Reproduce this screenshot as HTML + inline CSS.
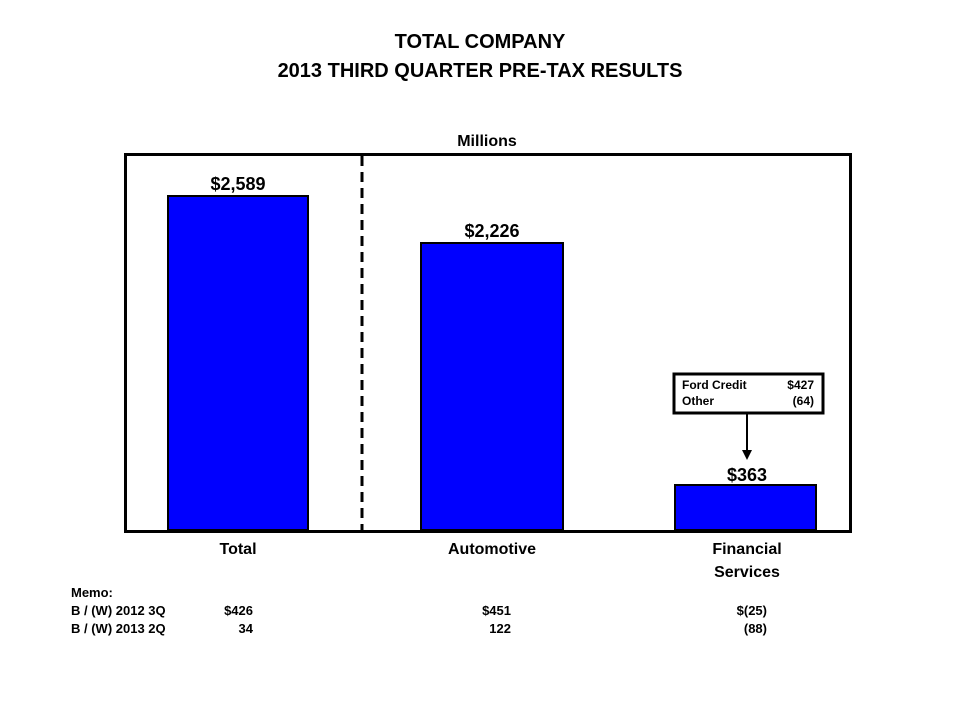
<!DOCTYPE html>
<html><head><style>
body{margin:0;background:#fff;}
svg text{font-family:"Liberation Sans",Arial,sans-serif;font-weight:bold;fill:#000;}
</style></head><body>
<svg width="960" height="720" xmlns="http://www.w3.org/2000/svg">
<text x="480" y="48" font-size="20" text-anchor="middle">TOTAL COMPANY</text>
<text x="480" y="77" font-size="20" text-anchor="middle">2013 THIRD QUARTER PRE-TAX RESULTS</text>
<text x="487" y="146" font-size="16" text-anchor="middle">Millions</text>
<rect x="125.5" y="154.5" width="725" height="377" fill="none" stroke="#000" stroke-width="3"/>
<line x1="362" y1="156" x2="362" y2="530" stroke="#000" stroke-width="3" stroke-dasharray="10,6"/>
<rect x="168" y="196" width="140" height="334" fill="#0000ff" stroke="#000" stroke-width="2"/>
<rect x="421" y="243" width="142" height="287" fill="#0000ff" stroke="#000" stroke-width="2"/>
<rect x="675" y="485" width="141" height="45" fill="#0000ff" stroke="#000" stroke-width="2"/>
<text x="238" y="190" font-size="18" text-anchor="middle">$2,589</text>
<text x="492" y="237" font-size="18" text-anchor="middle">$2,226</text>
<text x="747" y="481" font-size="18" text-anchor="middle">$363</text>
<rect x="674" y="374" width="149" height="39" fill="#fff" stroke="#000" stroke-width="3"/>
<text x="682" y="389" font-size="12">Ford Credit</text>
<text x="814" y="389" font-size="12" text-anchor="end">$427</text>
<text x="682" y="405" font-size="12">Other</text>
<text x="814" y="405" font-size="12" text-anchor="end">(64)</text>
<line x1="747" y1="414" x2="747" y2="452" stroke="#000" stroke-width="2"/>
<polygon points="742,450 752,450 747,460" fill="#000"/>
<text x="238" y="554" font-size="16" text-anchor="middle">Total</text>
<text x="492" y="554" font-size="16" text-anchor="middle">Automotive</text>
<text x="747" y="554" font-size="16" text-anchor="middle">Financial</text>
<text x="747" y="577" font-size="16" text-anchor="middle">Services</text>
<text x="71" y="597" font-size="13">Memo:</text>
<text x="71" y="615" font-size="13">B / (W) 2012 3Q</text>
<text x="71" y="633" font-size="13">B / (W) 2013 2Q</text>
<text x="253" y="615" font-size="13" text-anchor="end">$426</text>
<text x="253" y="633" font-size="13" text-anchor="end">34</text>
<text x="511" y="615" font-size="13" text-anchor="end">$451</text>
<text x="511" y="633" font-size="13" text-anchor="end">122</text>
<text x="767" y="615" font-size="13" text-anchor="end">$(25)</text>
<text x="767" y="633" font-size="13" text-anchor="end">(88)</text>
</svg>
</body></html>
